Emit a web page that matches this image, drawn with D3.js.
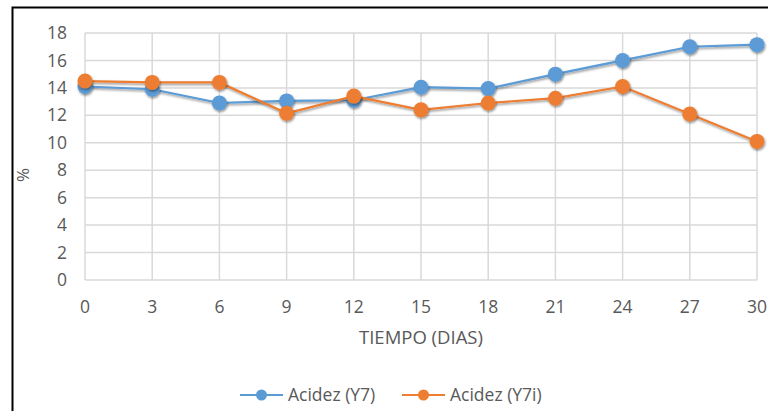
<!doctype html>
<html lang="en">
<head>
<script src="https://d3js.org/d3.v7.min.js"></script>
<style>
  body { margin:0; background:#fff; }
  text { font-family: "Open Sans", "Liberation Sans", sans-serif; fill:#595959; }
  .grid line { stroke:#d9d9d9; stroke-width:1.5; }
</style>
</head>
<body>
<div id="chart"></div>
<script>
  let days = [0, 3, 6, 9, 12, 15, 18, 21, 24, 27, 30];
  let acidezY7  = [14.1, 13.9, 12.9, 13.05, 13.1, 14.05, 13.95, 15.0, 16.0, 17.0, 17.15];
  let acidezY7i = [14.5, 14.4, 14.4, 12.15, 13.4, 12.4, 12.9, 13.25, 14.1, 12.1, 10.1];
  let yTicks = [0, 2, 4, 6, 8, 10, 12, 14, 16, 18];
  let seriesNames = ["Acidez (Y7)", "Acidez (Y7i)"];
  let colors = ["#5B9BD5", "#ED7D31"];

  let W = 768, H = 411;
  let svg = d3.select("#chart").append("svg")
              .attr("width", W).attr("height", H);

  let defs = svg.append("defs");
  let f = defs.append("filter").attr("id","shadow")
              .attr("x","-50%").attr("y","-50%").attr("width","200%").attr("height","200%");
  f.append("feDropShadow").attr("dx",0.8).attr("dy",1.5).attr("stdDeviation",1.3)
   .attr("flood-color","#000").attr("flood-opacity",0.45);

  // outer frame
  svg.append("rect").attr("x",12.5).attr("y",7.5).attr("width",W).attr("height",H)
     .attr("fill","none").attr("stroke","#000").attr("stroke-width",2);

  let x = d3.scaleLinear().domain([0,30]).range([85,757]);
  let y = d3.scaleLinear().domain([0,18]).range([280,33]);

  let grid = svg.append("g").attr("class","grid");
  grid.selectAll(".h").data(yTicks).enter().append("line")
      .attr("x1",x(0)).attr("x2",x(30))
      .attr("y1",d=>y(d)).attr("y2",d=>y(d));
  grid.selectAll(".v").data(days).enter().append("line")
      .attr("x1",d=>x(d)).attr("x2",d=>x(d))
      .attr("y1",y(0)).attr("y2",y(18));

  // y axis labels
  svg.append("g").selectAll("text").data(yTicks).enter().append("text")
     .attr("x",67).attr("y",d=>y(d)).attr("dy","0.35em")
     .attr("text-anchor","end").attr("font-size",17.5).text(d=>d);

  // x axis labels
  svg.append("g").selectAll("text").data(days).enter().append("text")
     .attr("x",d=>x(d)).attr("y",307).attr("dy","0.35em")
     .attr("text-anchor","middle").attr("font-size",17.5).text(d=>d);

  svg.append("text").attr("x",421).attr("y",338).attr("dy","0.35em")
     .attr("text-anchor","middle").attr("font-size",18.5).text("TIEMPO (DIAS)");

  svg.append("text").attr("transform","translate(23,175) rotate(-90)")
     .attr("dy","0.35em").attr("text-anchor","middle").attr("font-size",17).text("%");

  let line = d3.line().x((d,i)=>x(days[i])).y(d=>y(d));
  [acidezY7, acidezY7i].forEach(function(vals, k){
    let g = svg.append("g");
    g.append("path").datum(vals).attr("d",line)
     .attr("fill","none").attr("stroke",colors[k]).attr("stroke-width",2.2)
     .attr("filter","url(#shadow)");
    g.selectAll("circle").data(vals).enter().append("circle")
     .attr("cx",(d,i)=>x(days[i])).attr("cy",d=>y(d)).attr("r",7.5)
     .attr("fill",colors[k]).attr("filter","url(#shadow)");
  });

  // legend
  let legX = [240, 402];
  seriesNames.forEach(function(name, k){
    let g = svg.append("g").attr("transform","translate(" + legX[k] + ",395)");
    g.append("line").attr("x1",0).attr("x2",43).attr("stroke",colors[k]).attr("stroke-width",2.2);
    g.append("circle").attr("cx",21.5).attr("cy",0).attr("r",5.5).attr("fill",colors[k]);
    g.append("text").attr("x",48).attr("dy","0.35em").attr("font-size",17.5).text(name);
  });
</script>
</body>
</html>
